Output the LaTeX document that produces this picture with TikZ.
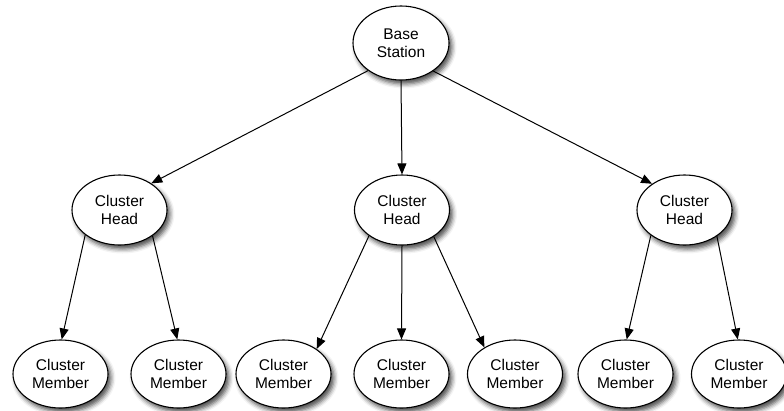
\documentclass[tikz,border=0pt]{standalone}
\usepackage{fontspec}
\setmainfont{Liberation Sans}
\usetikzlibrary{shapes.geometric,arrows.meta,shadows.blur}

\tikzset{
  bubble/.style={ellipse, draw=black, line width=1.1pt, fill=white, inner sep=0pt,
    align=center, font=\fontsize{15.5}{18}\selectfont,
    blur shadow={shadow xshift=3pt, shadow yshift=-4pt,
                 shadow blur radius=4.5pt, shadow opacity=70}},
  basebox/.style={bubble, minimum width=96pt, minimum height=74pt},
  headbox/.style={bubble, minimum width=95pt, minimum height=70pt},
  memberbox/.style={bubble, minimum width=95pt, minimum height=68pt},
  link/.style={line width=1pt, -{Triangle[length=11pt,width=9pt]}}
}

\begin{document}
\begin{tikzpicture}[x=1pt, y=-1pt]
  \useasboundingbox (0,0) rectangle (784,410);

  % root
  \node[basebox] (bs) at (401,43) {Base\\Station};

  % cluster heads
  \node[headbox] (h1) at (119.5,210) {Cluster\\Head};
  \node[headbox] (h2) at (402,210)   {Cluster\\Head};
  \node[headbox] (h3) at (684.5,210) {Cluster\\Head};

  % cluster members
  \node[memberbox] (m1) at (60.5,374)  {Cluster\\Member};
  \node[memberbox] (m2) at (178.5,374) {Cluster\\Member};
  \node[memberbox] (m3) at (283.5,374) {Cluster\\Member};
  \node[memberbox] (m4) at (401.5,374) {Cluster\\Member};
  \node[memberbox] (m5) at (515,374)   {Cluster\\Member};
  \node[memberbox] (m6) at (625.5,374) {Cluster\\Member};
  \node[memberbox] (m7) at (739,374)   {Cluster\\Member};

  % base station to heads
  \draw[link] (bs.220.5) -- (h1.40);
  \draw[link] (bs.south) -- (h2.north);
  \draw[link] (bs.319.5) -- (h3.141);

  % heads to members
  \draw[link] (h1.216)   -- (m1.88);
  \draw[link] (h1.322.4) -- (m2.92);
  \draw[link] (h2.218.5) -- (m3.37);
  \draw[link] (h2.south) -- (m4.north);
  \draw[link] (h2.320.7) -- (m5.139);
  \draw[link] (h3.217)   -- (m6.88);
  \draw[link] (h3.321)   -- (m7.92);
\end{tikzpicture}
\end{document}
